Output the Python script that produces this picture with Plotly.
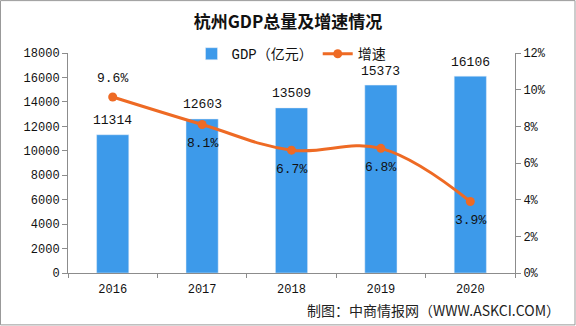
import plotly.graph_objects as go

years = ["2016", "2017", "2018", "2019", "2020"]
gdp = [11314, 12603, 13509, 15373, 16106]
rate = [9.6, 8.1, 6.7, 6.8, 3.9]
rate_pos = ["above", "below", "below", "below", "below"]
gdp_ticks = [0, 2000, 4000, 6000, 8000, 10000, 12000, 14000, 16000, 18000]
rate_ticks = [0, 2, 4, 6, 8, 10, 12]

BLUE = "#3D9AEA"
ORANGE = "#EE6A24"
AXIS = "#8C8C8C"
MONO = "Liberation Mono, Noto Sans CJK SC"

fig = go.Figure()
fig.add_trace(go.Bar(x=years, y=gdp, name="GDP（亿元）", marker_color=BLUE,
                     width=0.36, yaxis="y"))
fig.add_trace(go.Scatter(x=years, y=rate, name="增速", mode="lines+markers",
                         line=dict(color=ORANGE, width=3, shape="spline", smoothing=1.1),
                         marker=dict(color=ORANGE, size=9), yaxis="y2"))

for i, v in enumerate(gdp):
    fig.add_annotation(x=i, y=v, xref="x", yref="y", text=str(v), showarrow=False,
                       yshift=14, font=dict(family=MONO, size=13, color="#111"))
for i, (v, p) in enumerate(zip(rate, rate_pos)):
    fig.add_annotation(x=i, y=v, xref="x", yref="y2", text=f"{v:.1f}%", showarrow=False,
                       yshift=19 if p == "above" else -19,
                       font=dict(family=MONO, size=13, color="#111"))

fig.add_annotation(x=(562 - 68) / 447, y=(326 - 52.5 - 311) / 220.5, xref="paper", yref="paper",
                   text="制图：中商情报网（WWW.ASKCI.COM）",
                   showarrow=False, xanchor="right", yanchor="middle",
                   font=dict(family="Noto Sans CJK SC", size=14, color="#222"))

fig.update_layout(
    width=576, height=326,
    margin=dict(l=68, r=61, t=53, b=52.5),
    paper_bgcolor="white", plot_bgcolor="white",
    title=dict(text="<b>杭州GDP总量及增速情况</b>", x=0.5, xanchor="center", y=0.932, yanchor="middle",
               font=dict(family="Noto Sans CJK SC", size=17, color="#111")),
    showlegend=True,
    legend=dict(orientation="h", x=0.5, xanchor="center", y=0.995, yanchor="middle",
                font=dict(family=MONO, size=14, color="#111"), bgcolor="rgba(0,0,0,0)",
                itemwidth=30, tracegroupgap=0),
    xaxis=dict(type="category", categoryorder="array", categoryarray=years,
               range=[-0.5, len(years) - 0.5],
               showline=True, linecolor=AXIS, linewidth=1, ticks="outside", ticklen=4,
               tickcolor=AXIS, tickson="boundaries", showgrid=False, tickangle=0,
               ticklabelstandoff=5,
               tickfont=dict(family=MONO, size=12, color="#111")),
    yaxis=dict(range=[0, 18000], tickvals=gdp_ticks, ticktext=[str(t) for t in gdp_ticks],
               showline=True, linecolor=AXIS, ticks="outside",
               ticklen=5, tickcolor=AXIS, showgrid=False, zeroline=False,
               tickfont=dict(family=MONO, size=12, color="#111")),
    yaxis2=dict(range=[0, 12], tickvals=rate_ticks, ticktext=[f"{t}%" for t in rate_ticks],
                overlaying="y", side="right", showline=True, linecolor=AXIS, ticks="outside",
                ticklen=5, tickcolor=AXIS, showgrid=False, zeroline=False,
                tickfont=dict(family=MONO, size=12, color="#111")),
)

fig.add_shape(type="rect", xref="paper", yref="paper",
              x0=(0.5 - 68) / 447, x1=(575 - 68) / 447,
              y0=(273.5 - 325.5) / 220.5, y1=(273.5 - 0.5) / 220.5,
              line=dict(color="#999", width=1))

fig.write_html("out.html")
